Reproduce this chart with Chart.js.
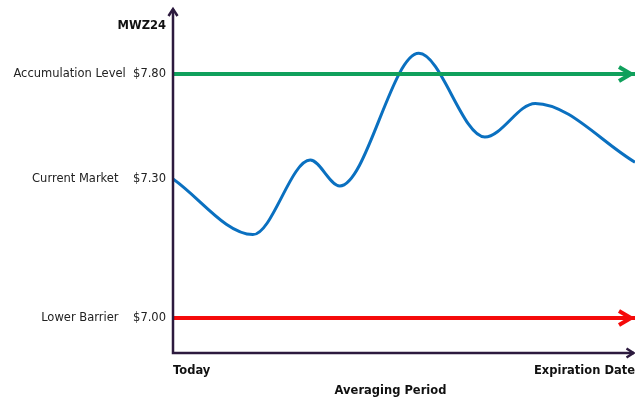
<!DOCTYPE html>
<html>
<head>
<meta charset="utf-8">
<script src="https://cdn.jsdelivr.net/npm/chart.js@4.4.1/dist/chart.umd.min.js"></script>
<style>
  html, body { margin: 0; padding: 0; background: #ffffff; }
  #wrap { width: 635px; height: 400px; position: relative; }
</style>
</head>
<body>
<div id="wrap"><canvas id="chart"></canvas></div>
<script>
// Price levels shown on the vertical axis
const levelValues = [7.00, 7.30, 7.80];
const levelNames = ['Lower Barrier', 'Current Market', 'Accumulation Level'];
const levelGaps = [4, 4, 2];
const seriesName = 'MWZ24';

// Averaging period: 0 = today, 100 = expiration
const periodTicks = [0, 100];
const periodLabels = ['Today', 'Expiration Date'];
const periodTitle = 'Averaging Period';

// Illustrative price path over the period
const pathX = [0, 17.3, 29.7, 36.1, 53.2, 67.5, 78.4, 100];
const pathY = [7.30, 7.18, 7.39, 7.285, 7.90, 7.50, 7.66, 7.38];

// Schematic vertical axis: each price level sits at a fixed share of the axis height
const axisDomain = [6.92, 7.00, 7.30, 7.80, 8.12];
const axisShares = [0, 0.1014, 0.5043, 0.8087, 1];

const FONT = 'DejaVu Sans';
const AXIS_COLOR = '#2c1a3e';
const GREEN = '#10a05c';
const RED = '#f50a0a';
const BLUE = '#0a70c0';

class LevelScale extends Chart.LinearScale {
  _share(v) {
    const d = axisDomain, s = axisShares;
    let i = 1;
    while (i < d.length - 1 && v > d[i]) i++;
    return s[i - 1] + (v - d[i - 1]) * (s[i] - s[i - 1]) / (d[i] - d[i - 1]);
  }
  getPixelForValue(v) {
    return v === null || v === undefined ? NaN : this.getPixelForDecimal(this._share(v));
  }
  getValueForPixel(p) {
    const f = this.getDecimalForPixel(p);
    const d = axisDomain, s = axisShares;
    let i = 1;
    while (i < s.length - 1 && f > s[i]) i++;
    return d[i - 1] + (f - s[i - 1]) * (d[i] - d[i - 1]) / (s[i] - s[i - 1]);
  }
}
LevelScale.id = 'level';
LevelScale.defaults = Chart.LinearScale.defaults;
Chart.register(LevelScale);

function chevron(ctx, tipX, tipY, dir, len, half, color, width) {
  ctx.save();
  ctx.strokeStyle = color;
  ctx.lineWidth = width;
  ctx.lineJoin = 'miter';
  ctx.lineCap = 'butt';
  ctx.beginPath();
  if (dir === 'right') {
    ctx.moveTo(tipX - len, tipY - half);
    ctx.lineTo(tipX, tipY);
    ctx.lineTo(tipX - len, tipY + half);
  } else {
    ctx.moveTo(tipX - half, tipY + len);
    ctx.lineTo(tipX, tipY);
    ctx.lineTo(tipX + half, tipY + len);
  }
  ctx.stroke();
  ctx.restore();
}

// Axes with arrow tips, arrowheads on level lines, and free text labels
const decorations = {
  id: 'decorations',
  afterDatasetsDraw(chart) {
    const { ctx, chartArea: ca } = chart;
    chart.data.datasets.forEach((ds, i) => {
      if (!ds.arrowHead) return;
      const pts = chart.getDatasetMeta(i).data;
      const last = pts[pts.length - 1];
      chevron(ctx, last.x - 4, last.y, 'right', 12, 7, ds.borderColor, 4);
    });

    ctx.save();
    ctx.strokeStyle = AXIS_COLOR;
    ctx.lineWidth = 2.5;
    ctx.beginPath();
    ctx.moveTo(ca.left, ca.top + 1);
    ctx.lineTo(ca.left, ca.bottom);
    ctx.lineTo(ca.right - 1, ca.bottom);
    ctx.stroke();
    ctx.restore();
    chevron(ctx, ca.left, ca.top + 1, 'up', 7, 4.5, AXIS_COLOR, 2.5);
    chevron(ctx, ca.right - 1.5, ca.bottom, 'right', 7, 4.5, AXIS_COLOR, 2.5);

    ctx.save();
    ctx.fillStyle = '#111';
    ctx.font = 'bold 11.5px "' + FONT + '"';
    ctx.textBaseline = 'middle';
    ctx.textAlign = 'right';
    ctx.fillText(seriesName, ca.left - 7, 26);
    ctx.textAlign = 'center';
    ctx.fillText(periodTitle, 390.5, 391);
    ctx.restore();
  }
};

new Chart(document.getElementById('chart'), {
  type: 'line',
  data: {
    datasets: [
      {
        data: [{ x: periodTicks[0], y: levelValues[2] }, { x: periodTicks[1], y: levelValues[2] }],
        borderColor: GREEN, borderWidth: 4, arrowHead: true, order: 1
      },
      {
        data: [{ x: periodTicks[0], y: levelValues[0] }, { x: periodTicks[1], y: levelValues[0] }],
        borderColor: RED, borderWidth: 4, arrowHead: true, order: 1
      },
      {
        data: pathX.map((x, i) => ({ x, y: pathY[i] })),
        borderColor: BLUE, borderWidth: 3, cubicInterpolationMode: 'monotone', order: 2
      }
    ]
  },
  options: {
    responsive: true,
    maintainAspectRatio: false,
    animation: false,
    layout: { autoPadding: false, padding: { top: 8, right: 0, left: 0, bottom: 0 } },
    elements: { point: { radius: 0 }, line: { borderCapStyle: 'butt' } },
    plugins: { legend: { display: false }, tooltip: { enabled: false } },
    scales: {
      x: {
        type: 'linear', min: periodTicks[0], max: periodTicks[1],
        afterBuildTicks: s => { s.ticks = periodTicks.map(v => ({ value: v })); },
        afterFit: s => { s.height = 47; s.paddingLeft = 0; s.paddingRight = 0; },
        grid: { display: false, drawTicks: false }, border: { display: false },
        ticks: {
          align: 'inner', padding: 11, maxRotation: 0, autoSkip: false,
          color: '#111', font: { family: FONT, size: 11.5, weight: 'bold' },
          callback: (v, i) => periodLabels[i]
        }
      },
      y: {
        type: 'level', min: axisDomain[0], max: axisDomain[axisDomain.length - 1],
        afterBuildTicks: s => { s.ticks = levelValues.map(v => ({ value: v })); },
        afterFit: s => { s.width = 173; s.paddingTop = 0; s.paddingBottom = 0; },
        grid: { display: false, drawTicks: false }, border: { display: false },
        ticks: {
          padding: 7, color: '#222', font: { family: FONT, size: 11.5 },
          callback: (v, i) => levelNames[i] + ' '.repeat(levelGaps[i]) + '$' + levelValues[i].toFixed(2)
        }
      }
    }
  },
  plugins: [decorations]
});
</script>
</body>
</html>
